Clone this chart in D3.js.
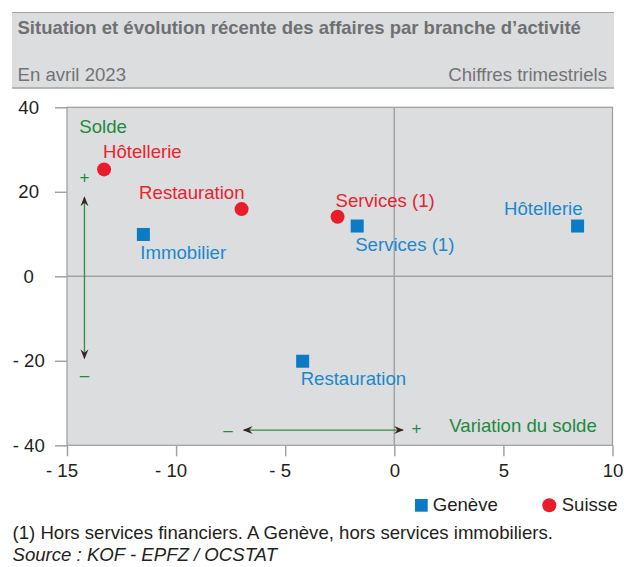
<!DOCTYPE html>
<html>
<head>
<meta charset="utf-8">
<script src="https://cdn.jsdelivr.net/npm/d3@7"></script>
<style>
  body { margin: 0; background: #fff; }
  svg text { font-family: "Liberation Sans", Arial, sans-serif; }
</style>
</head>
<body>
<div id="chart"></div>
<script>
// Data
const series = ["Genève", "Suisse"];

const branchesGeneve = ["Hôtellerie", "Services (1)", "Immobilier", "Restauration"];
const variationGeneve = [8.4, -1.7, -11.5, -4.2];
const soldeGeneve = [11.9, 11.9, 9.9, -20.1];

const branchesSuisse = ["Hôtellerie", "Restauration", "Services (1)"];
const variationSuisse = [-13.3, -7.0, -2.6];
const soldeSuisse = [25.3, 15.9, 14.1];

const xTicks = [-15, -10, -5, 0, 5, 10];
const yTicks = [-40, -20, 0, 20, 40];

// label placement around each point (pixels)
const labelPlace = {
  "Genève|Hôtellerie":   {dx: 5, dy: -11, anchor: "end"},
  "Genève|Services (1)": {dx: -2, dy: 25, anchor: "start"},
  "Genève|Immobilier":   {dx: -3, dy: 25, anchor: "start"},
  "Genève|Restauration": {dx: -2, dy: 24, anchor: "start"},
  "Suisse|Hôtellerie":   {dx: -1, dy: -11, anchor: "start"},
  "Suisse|Restauration": {dx: 3, dy: -10, anchor: "end"},
  "Suisse|Services (1)": {dx: -2, dy: -10, anchor: "start"}
};

const colors = {"Genève": "#0a7bc4", "Suisse": "#e91d29"};
const textColors = {"Genève": "#1b88cc", "Suisse": "#e8232e"};
const green = "#1c8a3f";
const fs = "18.6px";

const W = 624, H = 567;
const plot = {left: 67, right: 612.5, top: 107.3, bottom: 445.3};

const svg = d3.select("#chart").append("svg")
  .attr("width", W)
  .attr("height", H);

// Header band
svg.append("rect")
  .attr("x", 12).attr("y", 12)
  .attr("width", 602).attr("height", 76)
  .attr("fill", "#dcdddf");
svg.append("line")
  .attr("x1", 12).attr("x2", 614).attr("y1", 12.5).attr("y2", 12.5)
  .attr("stroke", "#a3a3a5");
svg.append("line")
  .attr("x1", 12).attr("x2", 614).attr("y1", 88).attr("y2", 88)
  .attr("stroke", "#a3a3a5").attr("stroke-width", 1.5);

svg.append("text")
  .attr("x", 17.5).attr("y", 34.3)
  .attr("fill", "#6f7072")
  .style("font-size", "18.5px")
  .style("font-weight", "bold")
  .text("Situation et évolution récente des affaires par branche d’activité");
svg.append("text")
  .attr("x", 17.5).attr("y", 81)
  .attr("fill", "#737375")
  .style("font-size", fs)
  .text("En avril 2023");
svg.append("text")
  .attr("x", 607).attr("y", 81)
  .attr("text-anchor", "end")
  .attr("fill", "#737375")
  .style("font-size", fs)
  .text("Chiffres trimestriels");

// Scales
const x = d3.scaleLinear().domain([-15, 10]).range([plot.left, plot.right]);
const y = d3.scaleLinear().domain([-40, 40]).range([plot.bottom, plot.top]);

// Plot background
svg.append("rect")
  .attr("x", plot.left).attr("y", plot.top)
  .attr("width", plot.right - plot.left).attr("height", plot.bottom - plot.top)
  .attr("fill", "#dcdddf")
  .attr("stroke", "#9d9d9f")
  .attr("stroke-width", 1.2);

// Zero lines
svg.append("line")
  .attr("x1", x(0)).attr("x2", x(0))
  .attr("y1", plot.top).attr("y2", plot.bottom)
  .attr("stroke", "#a3a3a5").attr("stroke-width", 1.5);
svg.append("line")
  .attr("x1", plot.left).attr("x2", plot.right)
  .attr("y1", y(0)).attr("y2", y(0))
  .attr("stroke", "#a3a3a5").attr("stroke-width", 1.5);

const fmt = d => d < 0 ? "- " + Math.abs(d) : String(d);

// Y axis
const yAxis = svg.append("g")
  .attr("transform", `translate(${plot.left},0)`)
  .call(d3.axisLeft(y).tickValues(yTicks).tickSize(12).tickFormat(fmt));
yAxis.select(".domain").remove();
yAxis.selectAll(".tick line").attr("stroke", "#a3a3a5").attr("stroke-width", 1.5);
yAxis.selectAll(".tick text")
  .attr("x", 28.7 - plot.left)
  .attr("text-anchor", "middle")
  .attr("fill", "#231f20")
  .style("font-size", fs);

// X axis
const xAxis = svg.append("g")
  .attr("transform", `translate(0,${plot.bottom})`)
  .call(d3.axisBottom(x).tickValues(xTicks).tickSize(11).tickFormat(fmt));
xAxis.select(".domain").remove();
xAxis.selectAll(".tick line").attr("stroke", "#a3a3a5").attr("stroke-width", 1.5);
xAxis.selectAll(".tick text")
  .attr("y", 31.5)
  .attr("dy", 0)
  .attr("dx", d => d < 0 ? -5.5 : 0)
  .attr("fill", "#231f20")
  .style("font-size", fs);

// Annotation arrows
const defs = svg.append("defs");
defs.append("marker")
  .attr("id", "head")
  .attr("viewBox", "0 0 10 10")
  .attr("refX", 9).attr("refY", 5)
  .attr("markerWidth", 10).attr("markerHeight", 10)
  .attr("markerUnits", "userSpaceOnUse")
  .attr("orient", "auto-start-reverse")
  .append("path")
    .attr("d", "M0,1 L10,5 L0,9 L3.5,5 Z")
    .attr("fill", "#3b2024");

const arrowH = {x1: -6.9, x2: 0.4, y: -36.4};
const arrowV = {x: -14.2, y1: 18.7, y2: -19.4};

svg.append("line")
  .attr("x1", x(arrowH.x1)).attr("x2", x(arrowH.x2))
  .attr("y1", y(arrowH.y)).attr("y2", y(arrowH.y))
  .attr("stroke", "#2f8c48").attr("stroke-width", 1.3)
  .attr("marker-start", "url(#head)")
  .attr("marker-end", "url(#head)");
svg.append("line")
  .attr("x1", x(arrowV.x)).attr("x2", x(arrowV.x))
  .attr("y1", y(arrowV.y1)).attr("y2", y(arrowV.y2))
  .attr("stroke", "#2f8c48").attr("stroke-width", 1.3)
  .attr("marker-start", "url(#head)")
  .attr("marker-end", "url(#head)");

// + and - signs
const sign = (px, py, t) => svg.append("text")
  .attr("x", px).attr("y", py)
  .attr("text-anchor", "middle")
  .attr("dy", "0.35em")
  .attr("fill", green)
  .style("font-size", "17px")
  .text(t);
sign(x(arrowV.x), 177.5, "+");
sign(x(arrowV.x), 375, "–");
sign(228, 430, "–");
sign(416.5, 428, "+");

svg.append("text")
  .attr("x", 79.3).attr("y", 133.3)
  .attr("fill", green)
  .style("font-size", fs)
  .text("Solde");
svg.append("text")
  .attr("x", 449.3).attr("y", 431.7)
  .attr("fill", green)
  .style("font-size", fs)
  .text("Variation du solde");

// Points
const geneve = branchesGeneve.map((b, i) => ({serie: "Genève", branche: b, vx: variationGeneve[i], vy: soldeGeneve[i]}));
const suisse = branchesSuisse.map((b, i) => ({serie: "Suisse", branche: b, vx: variationSuisse[i], vy: soldeSuisse[i]}));
const sq = 13, r = 7;

svg.append("g").selectAll("rect")
  .data(geneve)
  .join("rect")
    .attr("x", d => x(d.vx) - sq / 2)
    .attr("y", d => y(d.vy) - sq / 2)
    .attr("width", sq).attr("height", sq)
    .attr("fill", colors["Genève"]);

svg.append("g").selectAll("circle")
  .data(suisse)
  .join("circle")
    .attr("cx", d => x(d.vx))
    .attr("cy", d => y(d.vy))
    .attr("r", r)
    .attr("fill", colors["Suisse"]);

// Point labels
svg.append("g").selectAll("text")
  .data(geneve.concat(suisse))
  .join("text")
    .each(function(d) {
      const p = labelPlace[d.serie + "|" + d.branche];
      d3.select(this)
        .attr("x", x(d.vx) + p.dx)
        .attr("y", y(d.vy) + p.dy)
        .attr("text-anchor", p.anchor);
    })
    .attr("fill", d => textColors[d.serie])
    .style("font-size", fs)
    .text(d => d.branche);

// Legend
const legend = svg.append("g");
legend.append("rect")
  .attr("x", 415).attr("y", 499)
  .attr("width", 12.7).attr("height", 12.7)
  .attr("fill", colors[series[0]]);
legend.append("text")
  .attr("x", 432.7).attr("y", 510.7)
  .attr("fill", "#231f20")
  .style("font-size", fs)
  .text(series[0]);
legend.append("circle")
  .attr("cx", 549.3).attr("cy", 505.3).attr("r", r)
  .attr("fill", colors[series[1]]);
legend.append("text")
  .attr("x", 561.7).attr("y", 510.7)
  .attr("fill", "#231f20")
  .style("font-size", fs)
  .text(series[1]);

// Footnotes
svg.append("text")
  .attr("x", 12.5).attr("y", 539.3)
  .attr("fill", "#231f20")
  .style("font-size", fs)
  .text("(1) Hors services financiers. A Genève, hors services immobiliers.");
svg.append("text")
  .attr("x", 12.5).attr("y", 560.5)
  .attr("fill", "#231f20")
  .style("font-size", fs)
  .style("font-style", "italic")
  .text("Source : KOF - EPFZ / OCSTAT");
</script>
</body>
</html>
